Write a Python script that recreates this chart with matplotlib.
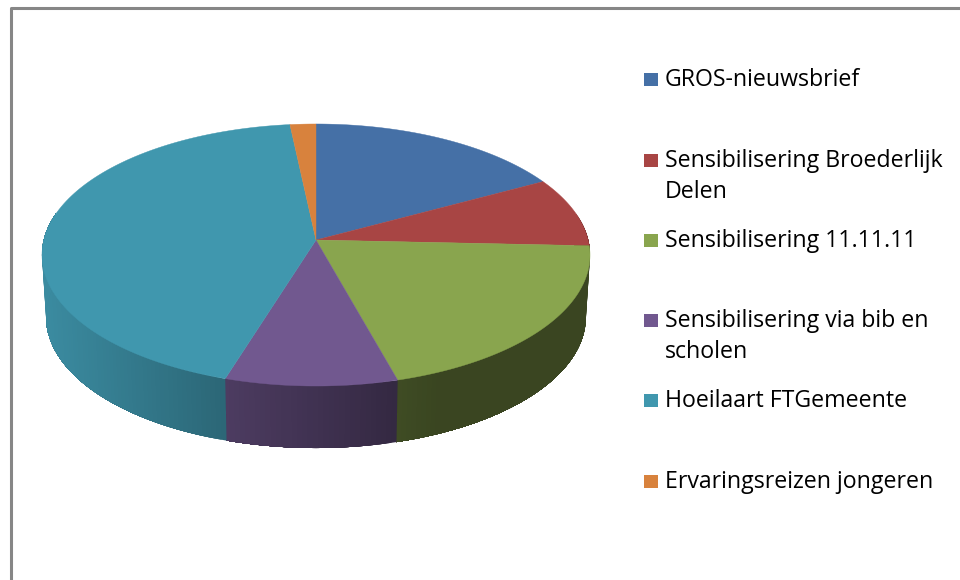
#!/usr/bin/env python3
"""3D-look pie chart, drawn as a projected disc in pixel coordinates."""

import numpy as np
import matplotlib
matplotlib.use('Agg')
import matplotlib.pyplot as plt
from matplotlib.patches import Polygon, Rectangle

labels = [
    'GROS-nieuwsbrief',
    'Sensibilisering Broederlijk\nDelen',
    'Sensibilisering 11.11.11',
    'Sensibilisering via bib en\nscholen',
    'Hoeilaart FTGemeente',
    'Ervaringsreizen jongeren',
]
values = [17.1, 8.6, 20.0, 9.1, 43.5, 1.7]
colors = ['#4570a6', '#a84544', '#89a54e', '#71588f', '#4097ae', '#d8823d']
legend_y = [79, 160, 240, 320, 400, 481]

plt.rcParams['font.family'] = ['Open Sans', 'DejaVu Sans']

fig = plt.figure(figsize=(9.6, 5.8), dpi=100, facecolor='white')
ax = fig.add_axes([0, 0, 1, 1])
ax.set_xlim(0, 960)
ax.set_ylim(580, 0)
ax.axis('off')

# frame of the original chart, cut off at the right and bottom
ax.plot([10.5, 10.5, 960], [580, 8, 8], color='#868686', lw=2.2, solid_capstyle='butt')

CX, CY = 316, 240
A, B, K = 129.3, 272.2, 0.1145
DEPTH = 62


def project(theta, scale=1.0, drop=0):
    # theta is clockwise from 12 o'clock, in degrees; K gives the perspective
    t = np.radians(theta)
    u, v = np.sin(t), np.cos(t)
    w = 1 + K * v
    return CX + scale * B * u / w, CY + drop - A * v / w


def shade(x):
    return np.interp(x, [45, 225, 397, 440], [0.92, 0.68, 0.46, 0.42])


def darken(color, f):
    return tuple(c * f for c in matplotlib.colors.to_rgb(color))


edges = np.concatenate([[0], np.cumsum(values)]) / sum(values) * 360

# side wall: strips that overlap the next one, painted in order, so no seams
for i, color in enumerate(colors):
    lo, hi = max(edges[i], 78), min(edges[i + 1], 282)
    if lo >= hi:
        continue
    for t0 in np.arange(lo, hi, 1.0):
        rim = np.linspace(t0, hi, 100)
        xs, ys = project(rim)
        xb, yb = project(rim, 0.985, DEPTH)
        c = darken(color, shade(project(t0 + 0.5)[0]))
        pts = list(zip(xs, ys)) + list(zip(xb[::-1], yb[::-1]))
        ax.add_patch(Polygon(pts, facecolor=c, edgecolor='none'))

# top face
for i, color in enumerate(colors):
    ts = np.linspace(edges[i], edges[i + 1], 120)
    xs, ys = project(ts)
    pts = [(CX, CY)] + list(zip(xs, ys))
    ax.add_patch(Polygon(pts, facecolor=color, edgecolor=color, lw=0.3))

# legend, spaced unevenly like the source
for label, color, y in zip(labels, colors, legend_y):
    ax.add_patch(Rectangle((644, y - 6.5), 14, 13.5, facecolor=color, edgecolor='none'))
    ax.text(665, y - 11, label, fontsize=16.7, color='black', va='top', ha='left',
            linespacing=1.38)

fig.savefig('out.png', dpi=100, facecolor='white')
plt.close()
